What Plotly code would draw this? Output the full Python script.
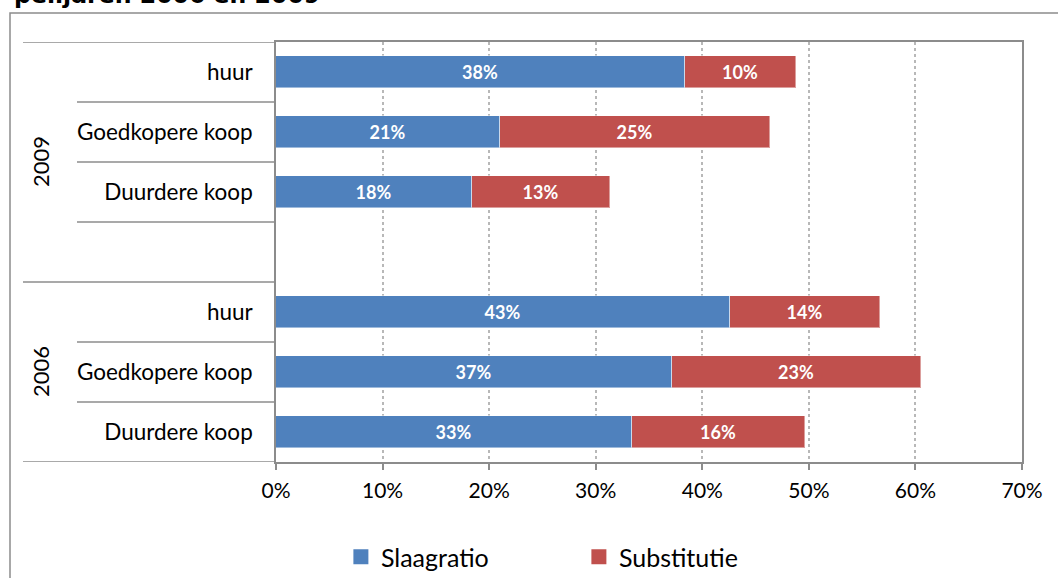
import plotly.graph_objects as go

# ---- data ----
years = ["2009", "2006"]
types = ["huur", "Goedkopere koop", "Duurdere koop"]
slaagratio = {"2009": [38.4, 21.0, 18.4], "2006": [42.6, 37.2, 33.4]}
substitutie = {"2009": [10.4, 25.4, 12.9], "2006": [14.1, 23.3, 16.2]}
x_ticks = [0, 10, 20, 30, 40, 50, 60, 70]
series_names = ["Slaagratio", "Substitutie"]
colors = ["#4F81BD", "#C0504D"]

# slot layout: 2009 types, one empty slot, 2006 types
pos, labels, s_vals, r_vals = [], [], [], []
group_centers = []
slot = 0
for gi, yr in enumerate(years):
    start = slot
    for t, a, b in zip(types, slaagratio[yr], substitutie[yr]):
        pos.append(slot); labels.append(t); s_vals.append(a); r_vals.append(b)
        slot += 1
    if gi == 0:
        slot += 1  # empty slot
    group_centers.append((start + slot - 1) / 2)
n_slots = slot

FONT = "Lato"
GRAY = "#8c8c8c"

fig = go.Figure()
for name, vals, col in zip(series_names, [s_vals, r_vals], colors):
    fig.add_trace(go.Bar(
        y=pos, x=vals, orientation="h", name=name, width=0.52,
        marker=dict(color=col, line=dict(color="rgba(255,255,255,0.45)", width=1)),
        texttemplate="%{x:.0f}%", textposition="inside", insidetextanchor="middle",
        textangle=0, constraintext="none",
        textfont=dict(family=FONT, size=18, color="white", weight="bold"),
        showlegend=False,
    ))
    fig.add_trace(go.Scatter(
        x=[None], y=[None], mode="markers", name=name,
        marker=dict(symbol="square", size=15, color=col),
    ))

fig.update_layout(
    width=1058, height=578,
    margin=dict(l=276, r=36, t=42, b=116, autoexpand=False),
    paper_bgcolor="white", plot_bgcolor="white",
    barmode="stack", bargap=0,
    font=dict(family=FONT, size=21, color="black"),
    showlegend=True,
    legend=dict(orientation="h", xref="container", x=0.3222, xanchor="left",
                yref="container", y=(578 - 557) / 578, yanchor="middle",
                traceorder="normal",
                font=dict(family=FONT, size=25), entrywidth=193, itemwidth=30,
                bgcolor="rgba(0,0,0,0)"),
    xaxis=dict(range=[0, 70], tickvals=x_ticks, ticktext=[f"{v}%" for v in x_ticks],
               showgrid=True, gridcolor="#b8b8b8", griddash="dot", gridwidth=1.5,
               zeroline=False, showline=True, mirror=True, linecolor=GRAY, linewidth=1.5,
               ticks="outside", ticklen=6, tickcolor=GRAY, tickwidth=1.5,
               ticklabelstandoff=3, tickfont=dict(family=FONT, size=21)),
    yaxis=dict(range=[n_slots - 0.5, -0.5], tickvals=pos, ticktext=labels,
               showgrid=False, zeroline=False, showline=True, mirror=True,
               linecolor=GRAY, linewidth=1.5, ticks="", ticklabelstandoff=17,
               tickfont=dict(family=FONT, size=22.5)),
)

plot_w = 1058 - 276 - 36
def px_x(px):
    return (px - 276) / plot_w

shapes = []
inner_x0 = px_x(77)
outer_x0 = px_x(23)
gap_slot = len(types)
for b in range(n_slots + 1):
    yb = b - 0.5
    x0 = outer_x0 if b in (0, gap_slot + 1, n_slots) else inner_x0
    shapes.append(dict(type="line", xref="paper", yref="y", x0=x0, x1=0,
                       y0=yb, y1=yb, line=dict(color=GRAY, width=1.5)))
# outer chart border
shapes.append(dict(type="rect", xref="paper", yref="paper", x0=px_x(10), x1=1.2,
                   y0=-0.6, y1=(462 - 13) / 420, line=dict(color=GRAY, width=1.5),
                   layer="below"))
fig.update_layout(shapes=shapes)

for yr, c in zip(years, group_centers):
    fig.add_annotation(text=yr, xref="paper", yref="y", x=px_x(40), y=c,
                       textangle=-90, showarrow=False, xanchor="center", yanchor="middle",
                       font=dict(family=FONT, size=22))

fig.add_annotation(text="<b>peiljaren 2006 en 2009</b>", xref="paper", yref="paper",
                   x=px_x(12), y=(462 - 11) / 420, xanchor="left", yanchor="bottom",
                   showarrow=False, font=dict(family="DejaVu Sans", size=23.6, color="black"))

fig.write_html("out.html", config={"displayModeBar": False},
               post_script="document.body.style.margin='0';")
